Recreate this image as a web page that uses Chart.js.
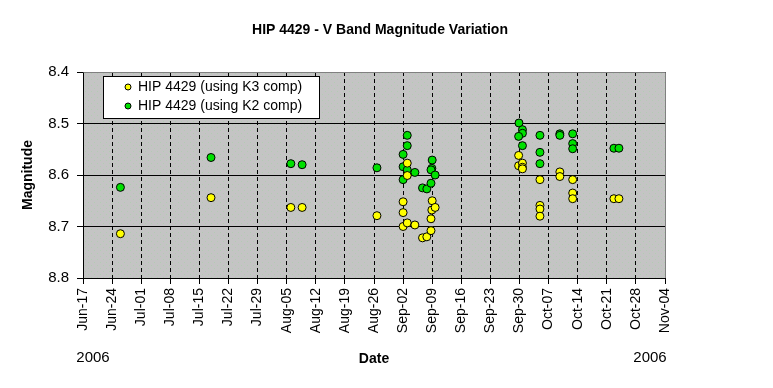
<!DOCTYPE html>
<html>
<head>
<meta charset="utf-8">
<title>HIP 4429 - V Band Magnitude Variation</title>
<script src="https://cdn.jsdelivr.net/npm/chart.js@4/dist/chart.umd.min.js"></script>
<style>
  html, body { margin: 0; padding: 0; background: #fff; }
</style>
</head>
<body>
<canvas id="myChart" width="773" height="388"></canvas>
<script>
const ctx = document.getElementById('myChart');

const FONT = 'Arial, "Liberation Sans", sans-serif';
const DAY = 86400000;
const BASE = Date.UTC(2006, 5, 17); // Jun-17, left edge of the axis

const chartTitle = 'HIP 4429 - V Band Magnitude Variation';
const yearLabels = ['2006', '2006'];

const xTickLabels = [
    'Jun-17', 'Jun-24', 'Jul-01', 'Jul-08', 'Jul-15', 'Jul-22', 'Jul-29',
    'Aug-05', 'Aug-12', 'Aug-19', 'Aug-26', 'Sep-02', 'Sep-09', 'Sep-16',
    'Sep-23', 'Sep-30', 'Oct-07', 'Oct-14', 'Oct-21', 'Oct-28', 'Nov-04'
];

// K3 comparison star (yellow)
const k3Dates = [
    '2006-06-26 00:00', '2006-07-17 19:00', '2006-08-06 00:00', '2006-08-08 17:00', '2006-08-26 17:00',
    '2006-09-02 00:00', '2006-09-02 00:00', '2006-09-02 00:00',
    '2006-09-03 00:00', '2006-09-03 00:00', '2006-09-03 00:00',
    '2006-09-04 20:00', '2006-09-06 16:00', '2006-09-07 17:00',
    '2006-09-09 00:00', '2006-09-08 22:00', '2006-09-08 17:00', '2006-09-08 17:00', '2006-09-09 17:00',
    '2006-09-29 19:00', '2006-09-29 19:00', '2006-09-30 17:00', '2006-09-30 17:00', '2006-09-30 17:00',
    '2006-10-04 22:00', '2006-10-04 22:00', '2006-10-04 22:00', '2006-10-04 22:00',
    '2006-10-09 17:00', '2006-10-09 17:00',
    '2006-10-12 19:00', '2006-10-12 19:00', '2006-10-12 19:00',
    '2006-10-22 17:00', '2006-10-23 22:00'
];
const k3Mags = [
    8.714, 8.644, 8.663, 8.663, 8.679,
    8.652, 8.673, 8.700,
    8.577, 8.601, 8.693,
    8.697, 8.722, 8.720,
    8.650, 8.668, 8.685, 8.708, 8.663,
    8.562, 8.582, 8.577, 8.585, 8.588,
    8.609, 8.659, 8.666, 8.680,
    8.594, 8.603,
    8.609, 8.635, 8.646,
    8.646, 8.646
];

// K2 comparison star (green)
const k2Dates = [
    '2006-06-26 00:00', '2006-07-17 19:00', '2006-08-06 00:00', '2006-08-08 17:00', '2006-08-26 17:00',
    '2006-09-02 00:00', '2006-09-02 00:00', '2006-09-02 00:00',
    '2006-09-03 00:00', '2006-09-03 00:00', '2006-09-03 00:00',
    '2006-09-04 20:00', '2006-09-06 16:00', '2006-09-07 17:00',
    '2006-09-09 00:00', '2006-09-08 22:00', '2006-09-08 17:00', '2006-09-08 17:00', '2006-09-09 17:00',
    '2006-09-29 21:00', '2006-09-30 17:00', '2006-09-30 17:00', '2006-09-29 19:00', '2006-09-30 17:00',
    '2006-10-04 22:00', '2006-10-04 22:00', '2006-10-04 22:00',
    '2006-10-09 17:00', '2006-10-09 17:00',
    '2006-10-12 19:00', '2006-10-12 19:00', '2006-10-12 19:00',
    '2006-10-22 17:00', '2006-10-23 22:00'
];
const k2Mags = [
    8.624, 8.566, 8.578, 8.580, 8.586,
    8.560, 8.584, 8.609,
    8.523, 8.543, 8.590,
    8.595, 8.625, 8.627,
    8.571, 8.587, 8.616, 8.590, 8.600,
    8.499, 8.512, 8.519, 8.525, 8.543,
    8.523, 8.556, 8.578,
    8.520, 8.523,
    8.520, 8.539, 8.549,
    8.548, 8.548
];

// days since Jun-17
function toDay(s) {
    return (Date.parse(s.replace(' ', 'T') + ':00Z') - BASE) / DAY;
}

function toPoints(dates, mags) {
    return dates.map((d, i) => ({ x: toDay(d), y: mags[i] }));
}

// dotted gray fill like the old Excel plot area
function makePattern() {
    const c = document.createElement('canvas');
    c.width = 6; c.height = 6;
    const g = c.getContext('2d');
    g.fillStyle = '#C4C4C4';
    g.fillRect(0, 0, 6, 6);
    g.fillStyle = '#B2CCB2';
    g.fillRect(1, 1, 1, 1);
    g.fillRect(4, 4, 1, 1);
    return g.createPattern(c, 'repeat');
}

const extras = {
    id: 'extras',
    beforeDraw(chart) {
        const a = chart.chartArea;
        const c = chart.ctx;
        c.save();
        c.fillStyle = makePattern();
        c.fillRect(a.left, a.top, a.right - a.left, a.bottom - a.top);
        c.restore();
    },
    beforeDatasetsDraw(chart) {
        // gray frame on top and right side
        const a = chart.chartArea;
        const c = chart.ctx;
        c.save();
        c.strokeStyle = '#808080';
        c.lineWidth = 1;
        c.beginPath();
        c.moveTo(Math.round(a.left) + 0.5, Math.round(a.top) + 0.5);
        c.lineTo(Math.round(a.right) + 0.5, Math.round(a.top) + 0.5);
        c.lineTo(Math.round(a.right) + 0.5, Math.round(a.bottom));
        c.stroke();
        c.restore();
    },
    afterDraw(chart) {
        const c = chart.ctx;
        c.save();
        c.fillStyle = '#000';
        c.textBaseline = 'middle';
        c.textAlign = 'center';
        c.font = 'bold 14px ' + FONT;
        c.fillText(chartTitle, 380, 30);

        c.font = '15px ' + FONT;
        c.fillText(yearLabels[0], 93, 358);
        c.fillText(yearLabels[1], 650, 358);

        // legend box
        c.fillStyle = '#fff';
        c.fillRect(103.5, 76.5, 216, 42);
        c.strokeStyle = '#000';
        c.lineWidth = 1;
        c.strokeRect(103.5, 76.5, 216, 42);
        c.textAlign = 'left';
        c.font = '14px ' + FONT;
        chart.data.datasets.forEach((ds, i) => {
            const y = 87 + i * 19;
            c.beginPath();
            c.arc(128, y, 3, 0, Math.PI * 2);
            c.fillStyle = ds.backgroundColor;
            c.fill();
            c.strokeStyle = '#000';
            c.stroke();
            c.fillStyle = '#000';
            c.fillText(ds.label, 138, y);
        });
        c.restore();
    }
};

const myChart = new Chart(ctx, {
    type: 'scatter',
    data: {
        datasets: [
            {
                label: 'HIP 4429 (using K3 comp)',
                data: toPoints(k3Dates, k3Mags),
                backgroundColor: '#FFFF00',
                borderColor: '#000',
                borderWidth: 1,
                pointRadius: 4
            },
            {
                label: 'HIP 4429 (using K2 comp)',
                data: toPoints(k2Dates, k2Mags),
                backgroundColor: '#00E000',
                borderColor: '#000',
                borderWidth: 1,
                pointRadius: 4
            }
        ]
    },
    options: {
        responsive: false,
        animation: false,
        events: [],
        layout: {
            padding: { top: 72, right: 108, left: 0, bottom: 0 }
        },
        plugins: {
            legend: { display: false },
            title: { display: false },
            tooltip: { enabled: false }
        },
        scales: {
            x: {
                type: 'linear',
                min: 0,
                max: 140,
                afterFit: scale => { scale.height = 110; },
                ticks: {
                    stepSize: 7,
                    autoSkip: false,
                    minRotation: 90,
                    maxRotation: 90,
                    padding: 4,
                    color: '#000',
                    font: { size: 14, family: FONT },
                    callback: (value, index) => xTickLabels[index]
                },
                grid: {
                    color: '#000',
                    tickColor: '#000',
                    tickLength: 6,
                    lineWidth: 1
                },
                border: { color: '#000', width: 1, dash: [4, 3] },
                title: {
                    display: true,
                    text: 'Date',
                    color: '#000',
                    font: { size: 14, weight: 'bold', family: FONT },
                    padding: { top: 0, bottom: 20 }
                }
            },
            y: {
                type: 'linear',
                reverse: true,
                min: 8.4,
                max: 8.8,
                afterFit: scale => { scale.width = 83; },
                ticks: {
                    stepSize: 0.1,
                    padding: 8,
                    color: '#000',
                    font: { size: 15, family: FONT },
                    callback: value => value.toFixed(1)
                },
                grid: {
                    color: ctx => (ctx.tick && Math.abs(ctx.tick.value - 8.4) < 1e-6) ? '#808080' : '#000',
                    tickColor: '#000',
                    tickLength: 6,
                    lineWidth: 1
                },
                border: { color: '#000', width: 1 },
                title: {
                    display: true,
                    text: 'Magnitude',
                    color: '#000',
                    font: { size: 14, weight: 'bold', family: FONT },
                    padding: { top: 20, bottom: 0 }
                }
            }
        }
    },
    plugins: [extras]
});
</script>
</body>
</html>
